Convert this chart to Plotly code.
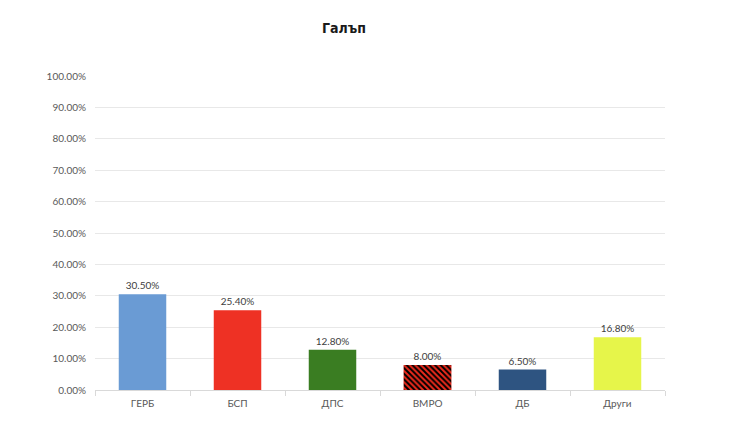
#! /usr/bin/env python3
# Bar chart of poll results (Gallup)
import plotly.graph_objects as go

parties = ["ГЕРБ", "БСП", "ДПС", "ВМРО", "ДБ", "Други"]
shares  = [0.305, 0.254, 0.128, 0.080, 0.065, 0.168]
colors  = ["#6a9bd4", "#ee3124", "#3a7d22", "#ee2a1c", "#2e5481", "#e6f54a"]
hatched = [False, False, False, True, False, False]
yticks  = [i/10 for i in range(11)]

pad = 8 # page body margin of the browser
fig = go.Figure()
fig.add_trace(go.Bar( # plain bars with labels
  x=parties, y=shares,
  marker=dict(color=colors, line_width=0),
  texttemplate="%{y:.2%}", textposition="outside", cliponaxis=False,
  textfont=dict(size=10, color="#404040"),
))
fig.add_trace(go.Bar( # hatched overlay
  x=parties, y=[s if h else None for s, h in zip(shares,hatched)],
  marker=dict(
    color="#ee2a1c", line_width=0,
    pattern=dict(shape="\\", fillmode="replace", bgcolor="#ee2a1c",
                 fgcolor="#000000", fgopacity=1, size=4, solidity=0.5),
  ),
  hoverinfo='skip',
))

fig.update_layout(
  title=dict(
    text="<b>Галъп</b>", x=(344-pad)/750, xref="container", xanchor="center",
    y=1-(28-pad)/432, yref="container", yanchor="middle",
    font=dict(family="DejaVu Sans Condensed", size=14, color="#1a1a1a"),
  ),
  width=750, height=432,
  margin=dict(l=95-pad, r=85+pad, t=76-pad, b=42+pad),
  plot_bgcolor="white", paper_bgcolor="white",
  barmode="overlay", bargap=0.5, showlegend=False,
  font=dict(family="Lato, sans-serif", size=10, color="#595959"),
  xaxis=dict(
    showline=True, linecolor="#d9d9d9", linewidth=1,
    ticks="outside", tickson="boundaries", ticklen=5, tickcolor="#d9d9d9",
    showgrid=False, ticklabelstandoff=4,
  ),
  yaxis=dict(
    range=[0, 1], tickvals=yticks, tickformat=".2%",
    showgrid=True, gridcolor="#e8e8e8", gridwidth=1,
    zeroline=False, ticks="", ticklabelstandoff=8,
  ),
)

fig.write_html("out.html")
